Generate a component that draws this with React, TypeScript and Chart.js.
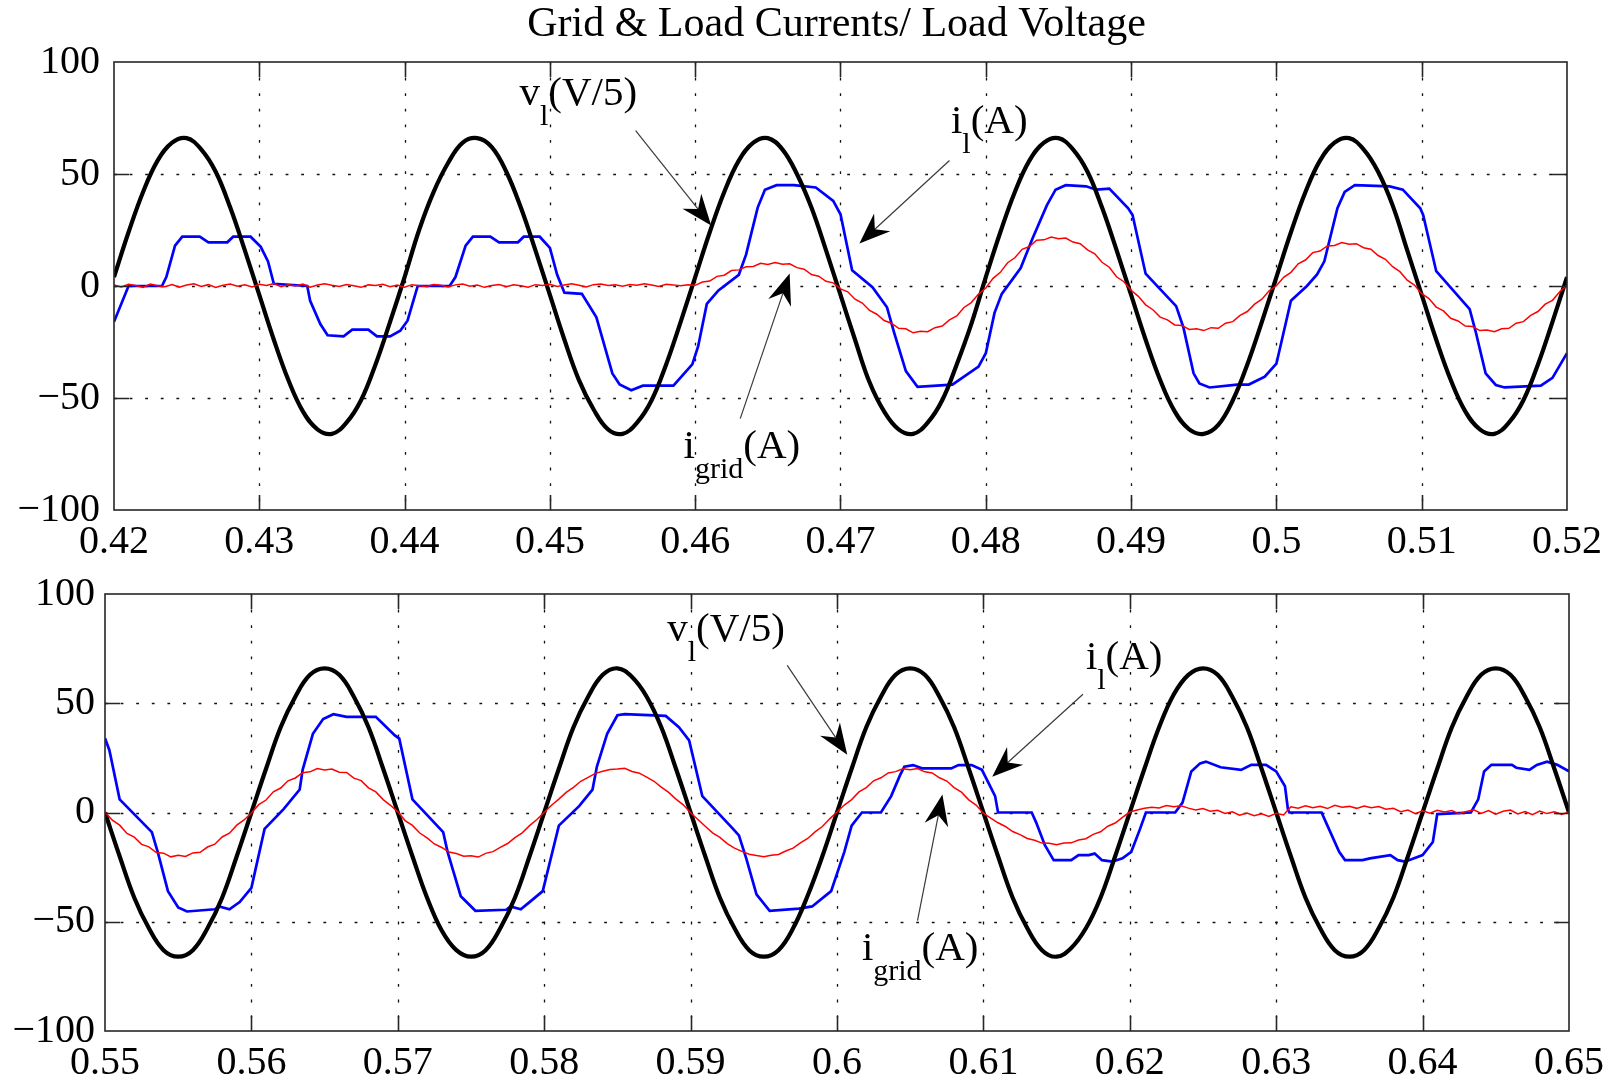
import { useEffect, useRef } from "react";
import { Chart, registerables } from "chart.js";

Chart.register(...registerables);

const FONT = '"Liberation Serif", "Times New Roman", serif';
const TITLE = "Grid & Load Currents/ Load Voltage";

// ---------- ticks ----------
const topXTicks = [0.42, 0.43, 0.44, 0.45, 0.46, 0.47, 0.48, 0.49, 0.5, 0.51, 0.52];
const topXLabels = ["0.42", "0.43", "0.44", "0.45", "0.46", "0.47", "0.48", "0.49", "0.5", "0.51", "0.52"];
const bottomXTicks = [0.55, 0.56, 0.57, 0.58, 0.59, 0.6, 0.61, 0.62, 0.63, 0.64, 0.65];
const bottomXLabels = ["0.55", "0.56", "0.57", "0.58", "0.59", "0.6", "0.61", "0.62", "0.63", "0.64", "0.65"];
const yTicks = [-100, -50, 0, 50, 100];
const yLabels = ["\u2212100", "\u221250", "0", "50", "100"];

// ---------- top panel data (t = 0.42 .. 0.52) ----------
// load voltage v_l (V/5), sampled every 1 ms from 0.420
const topVoltage = [
  4, 24, 42, 56, 64, 66, 61, 51, 35, 16, -4, -24, -42, -56, -64, -66, -61, -51, -35, -16,
  4, 25, 42, 55, 64, 66, 62, 51, 35, 16, -4, -24, -42, -55, -64, -66, -61, -51, -35, -16,
  4, 24, 42, 56, 64, 66, 61, 50, 35, 16, -4, -24, -43, -56, -64, -66, -61, -51, -35, -17,
  4, 24, 42, 56, 64, 66, 61, 51, 35, 16, -4, -24, -42, -56, -64, -66, -62, -51, -35, -16,
  4, 24, 42, 56, 64, 66, 61, 51, 36, 16, -4, -24, -42, -56, -64, -66, -61, -51, -35, -16,
  4,
];
// grid current i_grid (A), sampled every 0.5 ms from 0.420
const topGridCurrent = [
  0.5, -0.4, 0.8, 0.2, -0.6, 0.9, 0.1, -0.3, 0.7, -0.5,
  0.4, 1.0, -0.2, 0.6, -0.7, 0.3, 0.9, -0.1, 0.5, -0.4,
  0.8, 0.2, 1.1, -0.3, 0.6, 0.0, 0.9, -0.5, 0.4, 1.0,
  0.3, -0.2, 0.7, 0.1, -0.6, 0.5, 0.2, 0.8, -0.3, 0.4,
  -0.5, 0.6, 0.1, -0.2, 0.7, 0.3, -0.4, 0.5, 0.9, -0.1,
  0.4, -0.6, 0.2, 0.7, -0.3, 0.5, 0.1, -0.5, 0.6, 0.2,
  0.8, -0.2, 0.4, 1.0, 0.3, -0.4, 0.6, 0.9, 0.2, 0.5,
  -0.1, 0.7, 0.3, 1.0, 0.4, -0.2, 0.8, 0.5, 0.1, 0.6,
  0.3, 1.8, 2.2, 4.3, 4.8, 6.9, 7.2, 8.6, 8.7, 10.1,
  9.6, 10.5, 9.7, 9.9, 8.2, 7.5, 5.1, 4.4, 2.1, 1.4,
  -1.3, -2.6, -5.9, -7.6, -10.9, -12.6, -15.4, -16.6, -18.9, -19.1,
  -20.9, -20.2, -20.4, -18.6, -17.9, -15.1, -13.4, -9.6, -7.4, -3.6,
  -0.9, 3.4, 6.1, 10.4, 12.6, 16.4, 17.6, 20.4, 20.6, 21.9,
  21.1, 21.4, 19.6, 18.9, 16.1, 14.4, 10.6, 8.4, 4.1, 1.9,
  -1.9, -4.6, -8.4, -10.6, -13.9, -15.1, -17.4, -17.6, -19.4, -19.1,
  -19.9, -18.6, -18.9, -16.6, -15.9, -13.1, -11.4, -8.1, -5.9, -2.1,
  0.1, 3.9, 6.1, 9.9, 11.6, 14.9, 15.6, 17.9, 18.1, 19.4,
  18.6, 18.9, 17.1, 16.4, 13.6, 11.9, 8.6, 6.4, 2.6, 0.4,
  -3.4, -5.6, -9.4, -11.1, -14.4, -15.6, -17.9, -18.1, -19.9, -19.6,
  -20.4, -19.1, -18.9, -16.6, -15.9, -13.1, -11.4, -8.1, -6.4, -2.6,
  0.3,
];
// load current i_l (A): [time, value] breakpoints
const topLoadCurrent: [number, number][] = [
  [0.42, -16], [0.421, 0], [0.4233, 0], [0.4236, 4], [0.4242, 18], [0.4247, 22], [0.4259, 22],
  [0.4265, 19.5], [0.4278, 19.5], [0.4282, 22], [0.4294, 22], [0.4301, 17.5], [0.4306, 11], [0.431, 1],
  [0.4333, 0], [0.4335, -6.6], [0.4342, -17], [0.4347, -22], [0.4358, -22.5], [0.4364, -19.5],
  [0.4375, -19.5], [0.4381, -22.5], [0.439, -22.5], [0.4397, -20], [0.4402, -15.5], [0.4409, 0],
  [0.4431, 0], [0.4435, 4], [0.4442, 18], [0.4447, 22], [0.4459, 22], [0.4465, 19.5], [0.4478, 19.5],
  [0.4482, 22], [0.4493, 22], [0.45, 17], [0.4505, 5], [0.451, -3], [0.4522, -3.5], [0.4532, -14],
  [0.4543, -39], [0.4548, -44], [0.4556, -46.5], [0.4564, -44.5], [0.4585, -44.5], [0.4598, -35],
  [0.4602, -27], [0.4608, -8], [0.4616, -2], [0.463, 5], [0.4635, 14], [0.4643, 35], [0.4648, 43],
  [0.4656, 45], [0.4668, 45], [0.4683, 44], [0.4695, 38], [0.47, 32], [0.4708, 7], [0.4722, -0.5],
  [0.4732, -9.5], [0.4737, -21], [0.4745, -38], [0.4753, -45], [0.4777, -44], [0.4795, -36],
  [0.48, -30], [0.4806, -12], [0.4811, -3.5], [0.4824, 8], [0.4832, 21], [0.4842, 36], [0.4848, 43],
  [0.4855, 45], [0.4869, 44.5], [0.4876, 43], [0.4885, 43.5], [0.4898, 34.7], [0.4901, 31.7],
  [0.491, 5.5], [0.4919, -0.7], [0.4931, -9], [0.4936, -18.5], [0.4943, -39], [0.4947, -43.5],
  [0.4954, -45.3], [0.4973, -44], [0.4981, -44], [0.4992, -40.5], [0.5, -34.7], [0.501, -6.6],
  [0.5021, 0], [0.5028, 5.2], [0.5033, 11], [0.5042, 34.7], [0.5047, 42], [0.5054, 45], [0.5078, 44.5],
  [0.5087, 43], [0.5099, 34.7], [0.5101, 31.7], [0.511, 6.6], [0.512, -0.7], [0.5133, -10.3],
  [0.5137, -20], [0.5144, -39], [0.5151, -44.2], [0.5157, -45.3], [0.5182, -44.5], [0.519, -41],
  [0.52, -30],
];

// ---------- bottom panel data (t = 0.55 .. 0.65) ----------
const bottomVoltage = [
  0, -20, -39, -53, -63, -66, -63, -53, -39, -20, 0, 20, 39, 53, 63, 66, 63, 53, 39, 20,
  0, -20, -39, -54, -63, -66, -63, -53, -39, -20, 0, 20, 39, 53, 63, 66, 62, 53, 39, 20,
  0, -20, -39, -53, -63, -66, -63, -53, -38, -20, 0, 20, 39, 53, 63, 66, 63, 53, 39, 20,
  0, -20, -39, -53, -63, -66, -62, -53, -39, -20, 0, 20, 39, 54, 63, 66, 63, 53, 39, 20,
  0, -20, -39, -53, -63, -66, -63, -53, -39, -20, 0, 20, 39, 53, 63, 66, 63, 53, 39, 20,
  0,
];
const bottomGridCurrent = [
  0.2, -3.5, -5.8, -9.6, -11.3, -14.6, -15.7, -18.3, -18.6, -20.3, -19.6, -20.1, -18.5, -18.2, -15.8, -14.5, -11.2, -9.5, -5.8, -3.4,
  -0.2, 3.6, 5.7, 9.5, 11.2, 14.5, 15.8, 18.2, 18.6, 20.1, 19.5, 19.9, 18.4, 18.3, 15.7, 14.6, 11.3, 9.4, 5.9, 3.3,
  0.3, -3.7, -5.9, -9.4, -11.6, -14.4, -16.0, -18.1, -18.8, -20.0, -19.8, -20.4, -18.7, -17.9, -16.0, -14.2, -11.5, -9.3, -6.0, -3.2,
  0.1, 3.3, 6.1, 9.2, 11.5, 14.3, 16.1, 17.9, 18.9, 19.7, 19.9, 20.2, 18.8, 18.0, 16.2, 14.3, 11.6, 9.2, 6.1, 3.5,
  -0.1, -3.2, -6.3, -9.3, -11.4, -14.2, -16.3, -17.8, -19.1, -19.7, -20.2, -19.6, -19.2, -17.6, -16.3, -13.9, -11.9, -8.9, -6.4, -2.9,
  0.2, 3.4, 5.9, 9.4, 11.4, 14.5, 15.9, 18.1, 18.7, 20.0, 19.6, 20.1, 18.6, 18.1, 15.9, 14.4, 11.4, 9.3, 5.8, 3.4,
  -0.3, -2.6, -4.7, -6.4, -8.7, -10.1, -11.9, -12.7, -14.0, -14.1, -14.8, -14.0, -13.9, -12.6, -12.0, -10.0, -8.8, -6.3, -4.8, -2.2,
  0.2, 1.1, 1.9, 2.4, 2.1, 3.2, 2.6, 3.1, 2.0, 1.2, 1.8, 0.6, 1.0, -0.4, 0.3, -1.2, -0.2, -1.5, -0.6, -1.8,
  -0.4, -1.1, 2.6, 2.0, 3.1, 2.2, 2.9, 1.8, 3.3, 2.4, 2.8, 1.9, 3.0, 2.2, 2.7, 1.5, 1.9, 0.4, 1.1, -0.5,
  0.8, -0.3, 1.0, 0.2, 0.9, -0.6, 0.5, 1.2, -0.4, 0.9, -0.8, 0.6, 1.1, -0.7, 0.4, -1.0, 0.7, -0.5, 0.3, -0.9,
  0.2,
];
const bottomLoadCurrent: [number, number][] = [
  [0.55, 34], [0.5503, 28.5], [0.551, 6], [0.5532, -9], [0.5536, -18], [0.5543, -36], [0.555, -43.5],
  [0.5556, -45.3], [0.5575, -44.3], [0.5578, -43], [0.5585, -44.3], [0.5592, -41], [0.56, -34.5],
  [0.5609, -7.5], [0.5622, 1.5], [0.5633, 10.5], [0.5635, 19.5], [0.5642, 36], [0.5649, 42.8],
  [0.5656, 45], [0.5665, 43.8], [0.5685, 43.8], [0.5698, 35.3], [0.5701, 33.8], [0.571, 6],
  [0.5731, -9], [0.5734, -18], [0.5743, -38.3], [0.5753, -45], [0.5774, -44.5], [0.5777, -43],
  [0.5784, -44.3], [0.579, -41], [0.5799, -36], [0.581, -6], [0.5824, 3], [0.5833, 10.5],
  [0.5836, 21], [0.5843, 36], [0.585, 44.5], [0.5855, 45], [0.5883, 44.2], [0.5892, 39], [0.5899, 33],
  [0.5908, 7.5], [0.5929, -7.5], [0.5933, -10.5], [0.5938, -21], [0.5945, -37.5], [0.5954, -45],
  [0.5974, -44], [0.5983, -43], [0.5996, -36], [0.6005, -18], [0.601, -6], [0.6017, 0], [0.603, 0],
  [0.6037, 7.5], [0.6043, 17], [0.6046, 21], [0.6052, 21.7], [0.6058, 20.2], [0.6078, 20.2],
  [0.6083, 21.7], [0.6092, 21.7], [0.6099, 19.5], [0.6108, 7.5], [0.611, 0], [0.6133, 0],
  [0.6136, -4.5], [0.6142, -15], [0.6148, -21.8], [0.616, -21.8], [0.6165, -19.5], [0.6172, -19.5],
  [0.6176, -18.8], [0.6181, -21.8], [0.6188, -22.5], [0.6195, -21], [0.6201, -18], [0.6207, -7.5],
  [0.6211, 0], [0.6231, 0], [0.6236, 4.5], [0.6242, 18.8], [0.6248, 22.5], [0.6252, 23.3],
  [0.6262, 20.7], [0.6276, 19.5], [0.6283, 21.8], [0.6293, 21.8], [0.63, 18.8], [0.6306, 12],
  [0.6308, 1.5], [0.6309, 0], [0.6331, 0], [0.6335, -6], [0.6343, -18], [0.6347, -21.8],
  [0.6359, -21.8], [0.6364, -21], [0.6378, -19.5], [0.6383, -21.8], [0.6388, -22.5], [0.64, -19.5],
  [0.6407, -13.5], [0.641, -0.7], [0.6433, 0], [0.6438, 6], [0.6442, 18.8], [0.6447, 21.8],
  [0.6461, 21.8], [0.6464, 20.5], [0.6473, 19.5], [0.6478, 21.8], [0.6485, 23.3], [0.6492, 21.8],
  [0.65, 18.8],
];

// ---------- annotation text & arrows (data coordinates) ----------
type Label = { t: number; v: number; main: string; sub: string; rest: string };
type Arrow = { from: [number, number]; to: [number, number] };

const topLabels: Label[] = [
  { t: 0.4479, v: 80.6, main: "v", sub: "l", rest: "(V/5)" },
  { t: 0.4776, v: 68.1, main: "i", sub: "l", rest: "(A)" },
  { t: 0.4592, v: -76.6, main: "i", sub: "grid", rest: "(A)" },
];
const topArrows: Arrow[] = [
  { from: [0.4559, 69.4], to: [0.4611, 27] },
  { from: [0.4775, 56], to: [0.4713, 19] },
  { from: [0.4631, -59.2], to: [0.4665, 5.6] },
];
const bottomLabels: Label[] = [
  { t: 0.5884, v: 78.6, main: "v", sub: "l", rest: "(V/5)" },
  { t: 0.617, v: 65.9, main: "i", sub: "l", rest: "(A)" },
  { t: 0.6017, v: -67.3, main: "i", sub: "grid", rest: "(A)" },
];
const bottomArrows: Arrow[] = [
  { from: [0.5966, 67.3], to: [0.6007, 26.4] },
  { from: [0.6168, 54.1], to: [0.6106, 16.4] },
  { from: [0.6055, -49.5], to: [0.6072, 8.2] },
];

// ---------- helpers ----------
const sampled = (start: number, step: number, values: number[]) =>
  values.map((y, i) => ({ x: Number((start + i * step).toFixed(5)), y }));
const pairs = (list: [number, number][]) => list.map(([x, y]) => ({ x, y }));

function drawArrow(ctx: CanvasRenderingContext2D, x1: number, y1: number, x2: number, y2: number) {
  const dx = x2 - x1, dy = y2 - y1;
  const len = Math.hypot(dx, dy);
  const ux = dx / len, uy = dy / len;
  const nx = -uy, ny = ux;
  const L = 31, W = 12, N = 10;
  const bx = x2 - ux * L, by = y2 - uy * L;
  const mx = x2 - ux * (L - N), my = y2 - uy * (L - N);
  ctx.strokeStyle = "#3a3a3a";
  ctx.lineWidth = 1.2;
  ctx.setLineDash([]);
  ctx.beginPath();
  ctx.moveTo(x1, y1);
  ctx.lineTo(mx, my);
  ctx.stroke();
  ctx.fillStyle = "#000";
  ctx.beginPath();
  ctx.moveTo(x2, y2);
  ctx.lineTo(bx + nx * W, by + ny * W);
  ctx.lineTo(mx, my);
  ctx.lineTo(bx - nx * W, by - ny * W);
  ctx.closePath();
  ctx.fill();
}

type Panel = {
  voltageStart: number;
  voltage: number[];
  gridStart: number;
  grid: number[];
  load: [number, number][];
  xMin: number;
  xMax: number;
  xTicks: number[];
  xLabels: string[];
  labels: Label[];
  arrows: Arrow[];
  title?: string;
  canvasHeight: number;
  padTop: number;
  padRight: number;
  yWidth: number;
  xHeight: number;
  yPad: number;
};

function makeChart(canvas: HTMLCanvasElement, p: Panel) {
  const matlabAxes = {
    id: "matlabAxes",
    beforeDatasetsDraw(chart: any) {
      const { ctx, chartArea: a, scales } = chart;
      const xs = scales.x, ys = scales.y;
      ctx.save();
      ctx.strokeStyle = "#111";
      ctx.lineWidth = 1.3;
      ctx.setLineDash([2.8, 12.8]);
      for (const v of p.xTicks) {
        const x = Math.round(xs.getPixelForValue(v)) + 0.5;
        if (x <= a.left + 2 || x >= a.right - 2) continue;
        ctx.beginPath();
        ctx.moveTo(x, a.top);
        ctx.lineTo(x, a.bottom);
        ctx.stroke();
      }
      for (const v of yTicks) {
        const y = Math.round(ys.getPixelForValue(v)) + 0.5;
        if (y <= a.top + 2 || y >= a.bottom - 2) continue;
        ctx.beginPath();
        ctx.moveTo(a.left, y);
        ctx.lineTo(a.right, y);
        ctx.stroke();
      }
      ctx.restore();
    },
    afterDatasetsDraw(chart: any) {
      const { ctx, chartArea: a, scales } = chart;
      const xs = scales.x, ys = scales.y;
      ctx.save();
      ctx.setLineDash([]);
      ctx.strokeStyle = "#262626";
      ctx.lineWidth = 1.6;
      const TL = 15;
      ctx.beginPath();
      for (const v of p.xTicks) {
        const x = Math.round(xs.getPixelForValue(v)) + 0.5;
        if (x <= a.left + 2 || x >= a.right - 2) continue;
        ctx.moveTo(x, a.bottom);
        ctx.lineTo(x, a.bottom - TL);
        ctx.moveTo(x, a.top);
        ctx.lineTo(x, a.top + TL);
      }
      for (const v of yTicks) {
        const y = Math.round(ys.getPixelForValue(v)) + 0.5;
        if (y <= a.top + 2 || y >= a.bottom - 2) continue;
        ctx.moveTo(a.left, y);
        ctx.lineTo(a.left + TL, y);
        ctx.moveTo(a.right, y);
        ctx.lineTo(a.right - TL, y);
      }
      ctx.stroke();
      ctx.strokeRect(a.left, a.top, a.right - a.left, a.bottom - a.top);

      // arrows
      for (const ar of p.arrows) {
        drawArrow(
          ctx,
          xs.getPixelForValue(ar.from[0]), ys.getPixelForValue(ar.from[1]),
          xs.getPixelForValue(ar.to[0]), ys.getPixelForValue(ar.to[1])
        );
      }
      // labels
      ctx.fillStyle = "#000";
      ctx.textBaseline = "alphabetic";
      ctx.textAlign = "left";
      for (const lb of p.labels) {
        let x = xs.getPixelForValue(lb.t);
        const y = ys.getPixelForValue(lb.v);
        ctx.font = `41px ${FONT}`;
        ctx.fillText(lb.main, x, y);
        x += ctx.measureText(lb.main).width;
        ctx.font = `30px ${FONT}`;
        ctx.fillText(lb.sub, x, y + 20);
        x += ctx.measureText(lb.sub).width;
        ctx.font = `41px ${FONT}`;
        ctx.fillText(lb.rest, x, y);
      }
      if (p.title) {
        ctx.font = `42px ${FONT}`;
        ctx.textAlign = "center";
        ctx.fillText(p.title, (a.left + a.right) / 2 - 4, 36);
      }
      ctx.restore();
    },
  };

  return new Chart(canvas, {
    type: "line",
    data: {
      datasets: [
        {
          label: "i_grid",
          data: sampled(p.gridStart, 0.0005, p.grid),
          borderColor: "#ff0000",
          borderWidth: 1.5,
          pointRadius: 0,
          tension: 0,
          fill: false,
        },
        {
          label: "v_l",
          data: sampled(p.voltageStart, 0.001, p.voltage),
          borderColor: "#000000",
          borderWidth: 4.2,
          pointRadius: 0,
          tension: 0.4,
          fill: false,
        },
        {
          label: "i_l",
          data: pairs(p.load),
          borderColor: "#0000ff",
          borderWidth: 2.7,
          pointRadius: 0,
          tension: 0,
          fill: false,
        },
      ],
    },
    options: {
      animation: false,
      responsive: false,
      events: [],
      layout: { padding: { top: p.padTop, right: p.padRight, bottom: 0, left: 0 } },
      plugins: { legend: { display: false }, tooltip: { enabled: false }, title: { display: false } },
      scales: {
        x: {
          type: "linear",
          min: p.xMin,
          max: p.xMax,
          grid: { display: false, drawTicks: false },
          border: { display: false },
          afterBuildTicks: (s: any) => {
            s.ticks = p.xTicks.map((value) => ({ value }));
          },
          afterFit: (s: any) => {
            s.height = p.xHeight;
          },
          ticks: {
            autoSkip: false,
            maxRotation: 0,
            minRotation: 0,
            padding: 8,
            color: "#000",
            font: { family: FONT, size: 40 },
            callback: (_v: any, i: number) => p.xLabels[i],
          },
        },
        y: {
          type: "linear",
          min: -100,
          max: 100,
          grid: { display: false, drawTicks: false },
          border: { display: false },
          afterBuildTicks: (s: any) => {
            s.ticks = yTicks.map((value) => ({ value }));
          },
          afterFit: (s: any) => {
            s.width = p.yWidth;
          },
          ticks: {
            autoSkip: false,
            padding: p.yPad,
            color: "#000",
            font: { family: FONT, size: 40 },
            callback: (_v: any, i: number) => yLabels[i],
          },
        },
      },
    } as any,
    plugins: [matlabAxes as any],
  });
}

const topPanel: Panel = {
  voltageStart: 0.42,
  voltage: topVoltage,
  gridStart: 0.42,
  grid: topGridCurrent,
  load: topLoadCurrent,
  xMin: 0.42,
  xMax: 0.52,
  xTicks: topXTicks,
  xLabels: topXLabels,
  labels: topLabels,
  arrows: topArrows,
  title: TITLE,
  canvasHeight: 570,
  padTop: 62,
  padRight: 45,
  yWidth: 114,
  xHeight: 60,
  yPad: 14,
};

const bottomPanel: Panel = {
  voltageStart: 0.55,
  voltage: bottomVoltage,
  gridStart: 0.55,
  grid: bottomGridCurrent,
  load: bottomLoadCurrent,
  xMin: 0.55,
  xMax: 0.65,
  xTicks: bottomXTicks,
  xLabels: bottomXLabels,
  labels: bottomLabels,
  arrows: bottomArrows,
  canvasHeight: 521,
  padTop: 31,
  padRight: 42,
  yWidth: 105,
  xHeight: 50,
  yPad: 10,
};

export default function App() {
  const topRef = useRef<HTMLCanvasElement>(null);
  const bottomRef = useRef<HTMLCanvasElement>(null);

  useEffect(() => {
    const c1 = makeChart(topRef.current!, topPanel);
    const c2 = makeChart(bottomRef.current!, bottomPanel);
    return () => {
      c1.destroy();
      c2.destroy();
    };
  }, []);

  return (
    <div
      style={{
        position: "absolute",
        left: 0,
        top: 0,
        width: 1612,
        height: 1081,
        background: "#ffffff",
        overflow: "hidden",
      }}
    >
      <canvas
        ref={topRef}
        width={1612}
        height={topPanel.canvasHeight}
        style={{ position: "absolute", left: 0, top: 0, width: 1612, height: topPanel.canvasHeight }}
      />
      <canvas
        ref={bottomRef}
        width={1612}
        height={bottomPanel.canvasHeight}
        style={{ position: "absolute", left: 0, top: 560, width: 1612, height: bottomPanel.canvasHeight }}
      />
    </div>
  );
}
